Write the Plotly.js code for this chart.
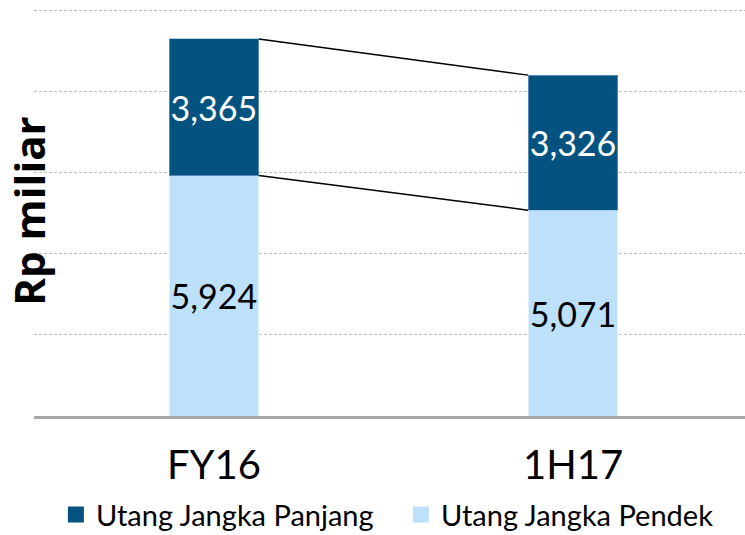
<!DOCTYPE html>
<html>
<head>
<meta charset="utf-8">
<script src="https://cdn.plot.ly/plotly-3.0.1.min.js"></script>
<style>html,body{margin:0;padding:0;background:#fff;}#chart{width:745px;height:535px;}</style>
</head>
<body>
<div id="chart"></div>
<script>
const categories = ["FY16", "1H17"];
const pendek = [5924, 5071];   // Utang Jangka Pendek (bottom)
const panjang = [3365, 3326];  // Utang Jangka Panjang (top)
const seriesNames = ["Utang Jangka Panjang", "Utang Jangka Pendek"];
const yTitle = "Rp miliar";

const xPos = categories.map((c, i) => i);
const barWidth = 0.25;
const fmt = v => v.toLocaleString("en-US");
const totals = pendek.map((v, i) => v + panjang[i]);

const darkBlue = "#03527F";
const lightBlue = "#BDE1FA";
const FONT = "Lato, 'Open Sans', sans-serif";

const traces = [
  {
    type: "bar", x: xPos, y: pendek, width: barWidth,
    marker: {color: lightBlue, line: {color: "rgba(255,255,255,0.5)", width: 1}},
    text: pendek.map(fmt), textposition: "inside", insidetextanchor: "middle",
    textangle: 0, constraintext: "none",
    textfont: {family: FONT, size: 34, color: "#000"},
    hoverinfo: "skip", showlegend: false
  },
  {
    type: "bar", x: xPos, y: panjang, width: barWidth,
    marker: {color: darkBlue, line: {color: "rgba(140,180,210,0.6)", width: 1}},
    text: panjang.map(fmt), textposition: "inside", insidetextanchor: "middle",
    textangle: 0, constraintext: "none",
    textfont: {family: FONT, size: 34, color: "#fff"},
    hoverinfo: "skip", showlegend: false
  },
  // connector lines between bars
  {
    type: "scatter", mode: "lines",
    x: [xPos[0] + barWidth / 2, xPos[1] - barWidth / 2],
    y: [totals[0], totals[1]],
    line: {color: "#000", width: 1.5}, showlegend: false, hoverinfo: "skip"
  },
  {
    type: "scatter", mode: "lines",
    x: [xPos[0] + barWidth / 2, xPos[1] - barWidth / 2],
    y: [pendek[0], pendek[1]],
    line: {color: "#000", width: 1.5}, showlegend: false, hoverinfo: "skip"
  },
  // legend entries
  {
    type: "scatter", mode: "markers", x: [null], y: [null], name: seriesNames[0],
    marker: {symbol: "square", size: 18, color: darkBlue}
  },
  {
    type: "scatter", mode: "markers", x: [null], y: [null], name: seriesNames[1],
    marker: {symbol: "square", size: 18, color: lightBlue}
  }
];

const layout = {
  width: 745, height: 535,
  margin: {l: 34, r: 0, t: 6, b: 119, autoexpand: false},
  paper_bgcolor: "#fff", plot_bgcolor: "#fff",
  barmode: "stack",
  font: {family: FONT, color: "#000"},
  xaxis: {
    type: "linear", range: [-0.501, 1.479],
    tickvals: xPos, ticktext: categories,
    tickfont: {family: FONT, size: 40, color: "#000"},
    ticks: "", showgrid: false, zeroline: false,
    showline: true, linecolor: "#A6A6A6", linewidth: 2.5,
    ticklabelstandoff: 12, fixedrange: true
  },
  yaxis: {
    range: [0, 10100], tickvals: [2000, 4000, 6000, 8000, 10000],
    showticklabels: false, ticks: "",
    showgrid: true, gridcolor: "#BFBFBF", gridwidth: 1, griddash: "3px,2px",
    zeroline: false, showline: false,
    title: {text: yTitle, font: {family: "'Open Sans', sans-serif", size: 42, color: "#000", weight: "bold"}, standoff: 0},
    fixedrange: true
  },
  showlegend: true,
  legend: {
    orientation: "h", traceorder: "normal",
    xref: "container", yref: "container",
    x: 0.075, xanchor: "left", y: 0.038, yanchor: "middle",
    font: {family: FONT, size: 29, color: "#000"},
    itemsizing: "trace", entrywidth: 300, entrywidthmode: "pixels",
    bgcolor: "rgba(0,0,0,0)"
  }
};

Plotly.newPlot("chart", traces, layout, {displayModeBar: false, staticPlot: true});
</script>
</body>
</html>
